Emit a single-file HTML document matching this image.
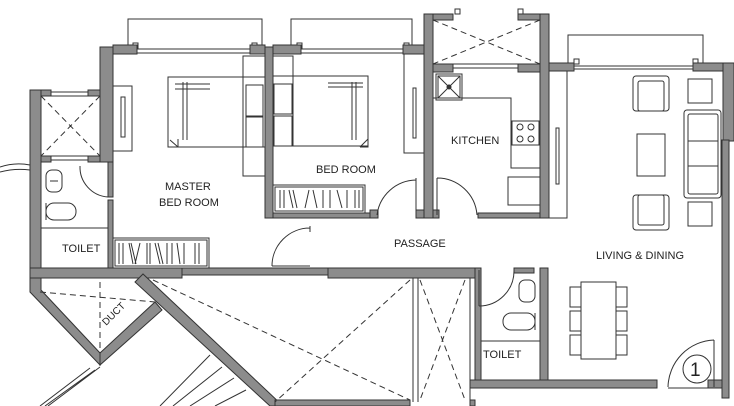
<!DOCTYPE html>
<html><head><style>body{margin:0;background:#fff}svg{display:block}</style></head><body>
<svg width="734" height="406" viewBox="0 0 734 406" xmlns="http://www.w3.org/2000/svg" font-family="Liberation Sans, sans-serif">
<g fill="none" stroke="#333" stroke-width="1">
<!-- balconies -->
<path d="M128 47V19H262V47M291 47V19H412V47M568 63V35H703V63"/>
<rect x="133" y="43" width="5" height="5"/><rect x="252" y="43" width="5" height="5"/>
<rect x="297" y="43" width="5" height="5"/><rect x="404" y="43" width="5" height="5"/>
<rect x="574" y="59" width="5" height="5"/><rect x="693" y="59" width="5" height="5"/>
<rect x="455" y="9" width="5" height="5"/><rect x="518" y="9" width="5" height="5"/>
<!-- window lines -->
<path d="M113 49H265M113 53H265M273 49H424M273 53H424M433 64H540M433 68H540M549 66H722M549 69H722M41 92H100M41 96H100M41 156H100M41 160H100"/>
</g>
<!-- walls -->
<g fill="#8c8c8c" stroke="#333" stroke-width="1">
<rect x="100" y="47" width="13" height="115"/>
<rect x="113" y="45" width="24" height="9"/><rect x="250" y="45" width="15" height="9"/>
<rect x="265" y="47" width="8" height="171"/>
<rect x="273" y="45" width="28" height="9"/><rect x="403" y="45" width="21" height="9"/>
<rect x="30" y="90" width="11" height="180"/>
<rect x="41" y="90" width="10" height="6"/><rect x="88" y="90" width="12" height="6"/>
<rect x="41" y="156" width="10" height="6"/><rect x="88" y="156" width="12" height="6"/>
<rect x="108" y="162" width="5" height="35"/>
<rect x="108" y="200" width="5" height="68"/>
<rect x="30" y="268" width="152" height="10"/>
<rect x="182" y="268" width="146" height="7"/>
<rect x="328" y="268" width="147" height="10"/>
<rect x="273" y="213" width="103" height="5"/>
<rect x="424" y="14" width="9" height="204"/>
<rect x="433" y="14" width="20" height="6"/><rect x="518" y="14" width="22" height="6"/>
<rect x="540" y="14" width="9" height="204"/>
<rect x="433" y="64" width="20" height="8"/><rect x="518" y="64" width="22" height="8"/>
<rect x="549" y="63" width="25" height="8"/><rect x="693" y="63" width="30" height="8"/>
<rect x="723" y="63" width="11" height="78"/>
<rect x="722" y="140" width="7" height="258"/>
<rect x="416" y="210" width="8" height="8"/><rect x="433" y="210" width="6" height="8"/>
<rect x="478" y="213" width="62" height="5"/>
<rect x="370" y="210" width="8" height="8"/>
<rect x="475" y="268" width="6" height="112"/>
<rect x="514" y="268" width="20" height="5"/>
<rect x="540" y="268" width="8" height="112"/>
<rect x="470" y="380" width="187" height="8"/>
<rect x="708" y="380" width="14" height="8"/>
<polygon points="30,278 41,278 41,290 100,353 100,365 30,292"/>
<polygon points="100,353 155,302 162,310 100,365"/>
<polygon points="135,282 143,274 283,406 270,406"/>
<rect x="275" y="400" width="135" height="6"/>
<rect x="470" y="400" width="5" height="6"/>
</g>
<!-- dashed shafts -->
<g stroke="#333" stroke-width="1" fill="none" stroke-dasharray="6,4">
<path d="M41 96L100 156M100 96L41 156M433 20L540 64M540 20L433 64M153 280L410 400M410 280L275 402M420 280L465 400M465 280L420 400M40 292L155 302M100 282V353"/>
</g>
<g stroke="#333" stroke-width="1" fill="none">
<path d="M413 278V402M418 278V402M470 278V402"/>
<!-- stairs -->
<path d="M210 355L160 406M222 367L173 406M234 378L190 406M246 390L215 406M100 367L48 406M95 370L45 406M90 368L40 406"/>
<!-- master wardrobe -->
<rect x="113" y="86" width="19" height="65"/><rect x="121" y="97" width="4" height="40"/>
<rect x="113" y="238" width="96" height="30"/><rect x="115" y="240" width="92" height="26"/>
<path d="M119 243V264M123 243V264M129 243L133 264M131 243L136 264M140 243L135 264M147 243V264M150 243V264M155 243L160 264M158 243L163 264M167 243V264M172 243V264M177 243L180 264M184 243V264M195 243V264M199 243V264"/>
<!-- master bed -->
<rect x="168" y="77" width="97" height="70"/>
<path d="M175 84H210M175 89H210M183 82V140M187 82V140M170 140l8 7M170 147h8v-8"/>
<rect x="243" y="56" width="22" height="120"/>
<rect x="246" y="85" width="17" height="31"/><rect x="246" y="117" width="17" height="30"/>
<!-- bed 2 -->
<rect x="273" y="76" width="95" height="70"/>
<path d="M328 83H363M328 87H363M352 82V140M356 82V140M360 147l8 -8M368 139v8h-8M273 56H293V146"/>
<rect x="274" y="84" width="18" height="30"/><rect x="274" y="116" width="18" height="30"/>
<rect x="404" y="54" width="20" height="99"/><rect x="413" y="88" width="3" height="50"/>
<rect x="273" y="185" width="92" height="28"/><rect x="275" y="187" width="88" height="24"/>
<path d="M280 190V208M284 190V208M289 190L293 208M293 190L297 208M309 190L305 208M313 190L317 208M323 190V208M330 190V208M337 190L342 208M347 190V208M355 190V208M359 190V208"/>
<!-- doors -->
<path d="M80 166A30 30 0 0 0 108 197M108 166V197"/>
<path d="M310 228A38 38 0 0 0 272 266M310 226V232M272 266H310"/>
<path d="M416 180A40 40 0 0 0 377 215M416 178V215"/>
<path d="M437 178A40 40 0 0 1 477 215M437 178V215"/>
<path d="M479 306A35 35 0 0 0 514 271M479 270V306"/>
<path d="M668 387A48 48 0 0 1 714 340M714 340V387M668 388H708"/>
<!-- kitchen -->
<rect x="436" y="74" width="26" height="26"/><rect x="438" y="76" width="22" height="22"/><path d="M438 76L460 98M460 76L438 98"/><circle cx="449" cy="87" r="2" fill="#333"/>
<path d="M433 98H511V168H540"/>
<rect x="512" y="121" width="27" height="24"/>
<circle cx="520" cy="127" r="3"/><circle cx="531" cy="127" r="3"/><circle cx="520" cy="139" r="3"/><circle cx="531" cy="139" r="3"/>
<rect x="508" y="177" width="32" height="28"/>
<rect x="549" y="71" width="18" height="147"/><rect x="556" y="128" width="3" height="56"/>
<!-- living furniture -->
<rect x="633" y="76" width="36" height="35" rx="3"/><rect x="638" y="81" width="26" height="30" rx="2"/>
<rect x="633" y="195" width="36" height="35" rx="3"/><rect x="638" y="195" width="26" height="30" rx="2"/>
<rect x="688" y="79" width="24" height="24"/><rect x="688" y="202" width="24" height="24"/>
<rect x="637" y="134" width="28" height="42"/>
<rect x="684" y="110" width="37" height="88" rx="3"/>
<rect x="688" y="114" width="30" height="80" rx="2"/>
<path d="M688 141H718M688 166H718"/>
<!-- dining -->
<rect x="581" y="282" width="35" height="77"/>
<rect x="570" y="287" width="11" height="20"/><rect x="570" y="311" width="11" height="20"/><rect x="570" y="335" width="11" height="20"/>
<rect x="616" y="287" width="11" height="20"/><rect x="616" y="311" width="11" height="20"/><rect x="616" y="335" width="11" height="20"/>
<circle cx="697" cy="369" r="14"/>
<!-- toilets -->
<rect x="46" y="170" width="16" height="22" rx="6"/><path d="M50 181H58"/>
<rect x="46" y="203" width="30" height="17" rx="8"/><path d="M46 203V220"/>
<rect x="519" y="280" width="16" height="22" rx="6"/>
<rect x="503" y="313" width="32" height="17" rx="8"/><path d="M535 313V330"/>
<path d="M41 228H108M481 341H540M0 167Q15 162 30 165M0 172Q15 168 30 170"/>
</g>
<g font-size="11" fill="#222">
<text x="165" y="190">MASTER</text>
<text x="159" y="206">BED ROOM</text>
<text x="316" y="173">BED ROOM</text>
<text x="451" y="144">KITCHEN</text>
<text x="394" y="247">PASSAGE</text>
<text x="596" y="259">LIVING &amp; DINING</text>
<text x="62" y="252">TOILET</text>
<text x="483" y="358">TOILET</text>
<text x="97" y="324" font-size="10" transform="rotate(-45 104 314)">DUCT</text>
<text x="690" y="376" font-size="19">1</text>
</g>
</svg>
</body></html>
